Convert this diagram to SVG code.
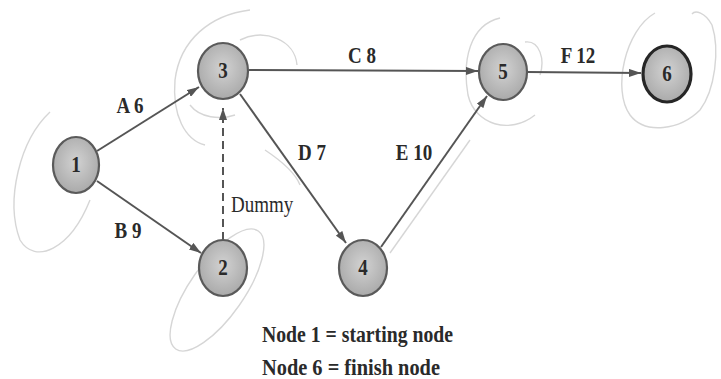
<svg xmlns="http://www.w3.org/2000/svg" width="721" height="379" viewBox="0 0 721 379">
<style>
.bg{fill:#ffffff}
.node{fill:url(#ng);stroke:#5a5a5a;stroke-width:2.2}
.node.fin{stroke:#262626;stroke-width:3.2}
.num{font-family:"Liberation Serif","Times New Roman",serif;font-weight:bold;font-size:19px;fill:#2a2a2a;text-anchor:middle}
.lbl{font-family:"Liberation Serif","Times New Roman",serif;font-weight:bold;font-size:19px;fill:#2a2a2a;text-anchor:middle}
.note{font-family:"Liberation Serif","Times New Roman",serif;font-size:19.5px;fill:#2a2a2a;font-weight:bold}
.edge{stroke:#555555;stroke-width:2;fill:none;marker-end:url(#ah)}
.dash{stroke-dasharray:8 5}
.sk{stroke:#d6d6d6;stroke-width:1.4;fill:none}
</style>
<defs>
<radialGradient id="ng" cx="50%" cy="45%" r="55%">
<stop offset="0" stop-color="#d2d2d2"/>
<stop offset="1" stop-color="#aaaaaa"/>
</radialGradient>
<marker id="ah" viewBox="0 0 12 8" refX="12" refY="4" markerWidth="12" markerHeight="8" markerUnits="userSpaceOnUse" orient="auto">
<path d="M0,0 L12,4 L0,8 Z" fill="#555555"/>
</marker>
</defs>
<rect class="bg" x="0" y="0" width="721" height="379"/>

<g id="sketch">
<path class="sk" d="M50,112 C20,140 5,200 20,240 C35,265 70,250 90,200"/>
<path class="sk" d="M250,10 C210,15 180,40 175,80 C172,115 185,140 205,145"/>
<path class="sk" d="M240,40 C265,28 295,40 297,65"/>
<path class="sk" d="M190,105 C200,118 220,120 235,115"/>
<path class="sk" d="M265,150 C280,160 295,172 300,185"/>
<ellipse class="sk" cx="217" cy="290" rx="72" ry="27" transform="rotate(-55 217 290)"/>
<path class="sk" d="M500,18 C470,25 462,60 468,95 C475,125 510,135 535,115"/>
<path class="sk" d="M525,42 C540,40 545,60 540,75"/>
<path class="sk" d="M655,13 C625,30 612,90 630,115 C645,135 680,130 700,110 C715,90 720,50 712,25 C705,12 695,10 692,14"/>
<path class="sk" d="M390,253 L470,140"/>
</g>

<g id="connectors">
<line class="edge" x1="97" y1="151" x2="199" y2="87"/>
<line class="edge" x1="97" y1="181" x2="201" y2="253"/>
<line class="edge" x1="249" y1="70" x2="478" y2="71"/>
<line class="edge" x1="240" y1="94" x2="346" y2="243"/>
<line class="edge" x1="381" y1="247" x2="487" y2="96"/>
<line class="edge" x1="527" y1="72" x2="641" y2="73"/>
<line class="edge dash" x1="223" y1="240" x2="223" y2="108"/>
<text class="lbl" transform="translate(130,113) scale(1,1.2)">A 6</text>
<text class="lbl" transform="translate(128,238) scale(1,1.2)">B 9</text>
<text class="lbl" transform="translate(362,63) scale(1,1.2)">C 8</text>
<text class="lbl" transform="translate(312,160) scale(1,1.2)">D 7</text>
<text class="lbl" transform="translate(414,160) scale(1,1.2)">E 10</text>
<text class="lbl" transform="translate(578,63) scale(1,1.2)">F 12</text>
<text class="lbl" style="font-weight:normal;text-anchor:start" transform="translate(231,212) scale(1,1.2)">Dummy</text>
</g>

<g id="node1"><ellipse class="node" cx="76" cy="165" rx="23" ry="28"/><text class="num" transform="translate(76,172) scale(1,1.2)">1</text></g>
<g id="node2"><ellipse class="node" cx="223" cy="268" rx="24" ry="28"/><text class="num" transform="translate(223,275) scale(1,1.2)">2</text></g>
<g id="node3"><ellipse class="node" cx="223" cy="71" rx="25" ry="28"/><text class="num" transform="translate(223,78) scale(1,1.2)">3</text></g>
<g id="node4"><ellipse class="node" cx="363" cy="268" rx="24" ry="28"/><text class="num" transform="translate(363,275) scale(1,1.2)">4</text></g>
<g id="node5"><ellipse class="node" cx="503" cy="72" rx="24" ry="28"/><text class="num" transform="translate(503,79) scale(1,1.2)">5</text></g>
<g id="node6"><ellipse class="node fin" cx="667" cy="74" rx="24" ry="28"/><text class="num" transform="translate(667,81) scale(1,1.2)">6</text></g>

<g id="legend">
<text class="note" transform="translate(262,342) scale(1,1.2)" textLength="191" lengthAdjust="spacingAndGlyphs">Node 1 = starting node</text>
<text class="note" transform="translate(262,375) scale(1,1.2)" textLength="178" lengthAdjust="spacingAndGlyphs">Node 6 = finish node</text>
</g>
</svg>
